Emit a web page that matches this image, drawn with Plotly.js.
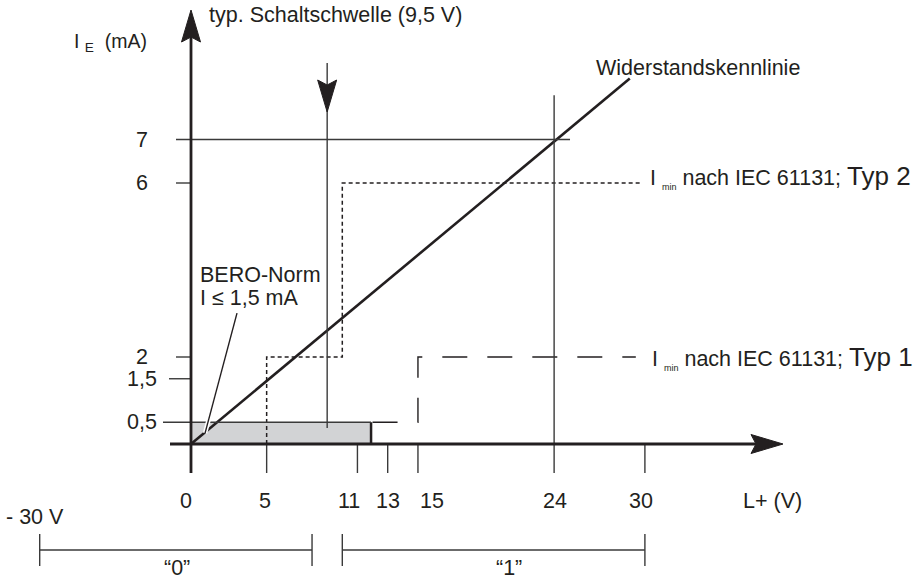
<!DOCTYPE html>
<html>
<head>
<meta charset="utf-8">
<script src="https://cdn.plot.ly/plotly-3.0.1.min.js"></script>
<style>html,body{margin:0;padding:0;background:#fff;}#chart{width:920px;height:579px;}</style>
</head>
<body>
<div id="chart"></div>
<script>
// ---------- data ----------
const xTickVals = [0, 5, 11, 13, 15, 24, 30];            // L+ (V)
const xTickText = ['0', '5', '11', '13', '15', '24', '30'];
const yTickVals = [0.5, 1.5, 2, 6, 7];                   // I_E (mA)
const yTickText = ['0,5', '1,5', '2', '6', '7'];

const resistanceU = [0, 29];        // Widerstandskennlinie
const resistanceI = [0, 8.4];

const typ2U = [5, 5, 10, 10, 29.8]; // I_min nach IEC 61131; Typ 2
const typ2I = [0, 2, 2, 6, 6];

const typ1U = [12, 15, 15, 29.4];   // I_min nach IEC 61131; Typ 1
const typ1I = [0.5, 0.5, 2, 2];

const beroU = [0, 11.9];            // BERO-Norm area
const beroI = [0, 0.5];

const thresholdU = 9.0;             // typ. Schaltschwelle arrow
const ratedU = 24;                  // guide lines
const ratedI = 7;

const zeroBand = [-10, 8];          // "0" band, left end = -30 V (compressed)
const oneBand = [10, 30];           // "1" band

// ---------- geometry helpers (layout only) ----------
const W = 920, H = 579;
const PXX = 15.13;   // px per V
const PXY = 43.5;    // px per mA
const X0 = 191, Y0 = 444; // pixel of origin
const xRange = [-X0 / PXX, (W - X0) / PXX];
const yRange = [-(H - Y0) / PXY, Y0 / PXY];
const px = p => p / PXX;   // px -> V
const py = p => p / PXY;   // px -> mA

const DARK = '#231f20';
const GRAY = '#3a3a3a';
const FONT = 'Liberation Sans, Arial, sans-serif';
const FS = 21.5;

function arrowHead(xt, yt, dir) {
  const L = 32, Wd = 9.5, N = 5;
  let pts;
  if (dir === 'up') {
    pts = [[xt, yt], [xt + px(Wd), yt - py(L)], [xt, yt - py(L - N)], [xt - px(Wd), yt - py(L)]];
  } else if (dir === 'down') {
    pts = [[xt, yt], [xt + px(Wd), yt + py(L)], [xt, yt + py(L - N)], [xt - px(Wd), yt + py(L)]];
  } else {
    pts = [[xt, yt], [xt - px(L), yt + py(Wd)], [xt - px(L - N), yt], [xt - px(L), yt - py(Wd)]];
  }
  const d = 'M' + pts.map(p => p[0] + ',' + p[1]).join(' L') + ' Z';
  return {type: 'path', xref: 'x', yref: 'y', path: d, fillcolor: DARK, line: {color: DARK, width: 1}, layer: 'above'};
}
function seg(x0, y0, x1, y1, color, width, layer) {
  return {type: 'line', xref: 'x', yref: 'y', x0, y0, x1, y1, line: {color, width}, layer: layer || 'above'};
}

const shapes = [];
// BERO grey area
shapes.push({type: 'rect', xref: 'x', yref: 'y', x0: beroU[0], x1: beroU[1], y0: beroI[0], y1: beroI[1],
  fillcolor: '#d2d3d5', line: {width: 0}, layer: 'below'});
shapes.push(seg(beroU[1], beroI[0], beroU[1], beroI[1], DARK, 2.5));

// y ticks / guide lines
const tickBottom = -py(29);
yTickVals.forEach(v => {
  let x0 = -px(15), x1 = 0;
  if (v === 0.5) { x0 = -px(28); x1 = beroU[1]; }
  if (v === 1.5) { x0 = -px(22); }
  if (v === ratedI) { x1 = ratedU + 1.05; }
  shapes.push(seg(x0, v, x1, v, GRAY, 1.4));
});
// x ticks
xTickVals.forEach(v => {
  const top = v === ratedU ? 8.02 : 0;
  shapes.push(seg(v, tickBottom, v, top, GRAY, 1.4));
});

// axes
const yTip = py(Y0 - 10), xTip = px(783 - X0);
shapes.push(seg(0, tickBottom, 0, yTip - py(20), DARK, 2.8));
shapes.push(arrowHead(0, yTip, 'up'));
shapes.push(seg(-px(21), 0, xTip - px(20), 0, DARK, 2.8));
shapes.push(arrowHead(xTip, 0, 'right'));

// threshold arrow
const thrTop = py(Y0 - 63), thrTip = py(Y0 - 112), thrBottom = py(Y0 - 428);
shapes.push(seg(thresholdU, thrTop, thresholdU, thrBottom, GRAY, 1.4));
shapes.push(arrowHead(thresholdU, thrTip, 'down'));

// BERO pointer (white halo + line)
const ptr = [[3.04, 3.01], [0.93, 0.25]];
shapes.push(seg(ptr[0][0], ptr[0][1], ptr[1][0], ptr[1][1], '#ffffff', 4.5));
shapes.push(seg(ptr[0][0], ptr[0][1], ptr[1][0], ptr[1][1], DARK, 1.4));

// bands "0" / "1"
const bandY = -py(550 - Y0), bandH = py(16);
[zeroBand, oneBand].forEach(b => {
  shapes.push(seg(b[0], bandY, b[1], bandY, GRAY, 1.4));
  shapes.push(seg(b[0], bandY - bandH, b[0], bandY + bandH, GRAY, 1.4));
  shapes.push(seg(b[1], bandY - bandH, b[1], bandY + bandH, GRAY, 1.4));
});

// ---------- annotations ----------
const ann = [];
function txt(text, x, y, opts) {
  ann.push(Object.assign({text, x, y, xref: 'x', yref: 'y', showarrow: false,
    font: {family: FONT, size: FS, color: DARK}, xanchor: 'center', yanchor: 'middle'}, opts || {}));
}
const xLabelShift = {0: -5, 5: -2, 11: -8, 13: 0, 15: 14, 24: 1, 30: -4};
const xLabelY = -py(501 - Y0);
xTickVals.forEach((v, i) => txt(xTickText[i], v, xLabelY, {xshift: xLabelShift[v]}));
yTickVals.forEach((v, i) => txt(yTickText[i], -px(X0 - 142), v));

txt('L+ (V)', px(772 - X0), xLabelY);
txt('I <sub>E</sub>  (mA)', -px(X0 - 149), py(Y0 - 42), {xanchor: 'right', font: {family: FONT, size: 19.5, color: DARK}});
txt('typ. Schaltschwelle (9,5 V)', px(207 - X0), py(Y0 - 15), {xanchor: 'left'});
txt('Widerstandskennlinie', px(698 - X0), py(Y0 - 68));
txt('BERO-Norm', px(198 - X0), py(Y0 - 275), {xanchor: 'left'});
txt('I ≤ 1,5 mA', px(198 - X0), py(Y0 - 298), {xanchor: 'left'});
txt('I <sub><span style="font-size:9px">min</span></sub> nach IEC 61131; <span style="font-size:26px">Typ 2</span>',
    typ2U[typ2U.length - 1] + px(6), typ2I[typ2I.length - 1] + 0.15, {xanchor: 'left'});
txt('I <sub><span style="font-size:9px">min</span></sub> nach IEC 61131; <span style="font-size:26px">Typ 1</span>',
    typ1U[typ1U.length - 1] + px(14), typ1I[typ1I.length - 1], {xanchor: 'left'});
txt('- 30 V', zeroBand[0] - px(5), -py(517 - Y0));
txt('“0”', px(177 - X0), -py(568 - Y0));
txt('“1”', px(509 - X0), -py(568 - Y0));

// ---------- traces ----------
const traces = [
  {x: resistanceU, y: resistanceI, mode: 'lines', line: {color: DARK, width: 2.6}, hoverinfo: 'skip'},
  {x: typ2U, y: typ2I, mode: 'lines', line: {color: DARK, width: 1.5, dash: '4px,3px'}, hoverinfo: 'skip'},
  {x: typ1U, y: typ1I, mode: 'lines', line: {color: DARK, width: 1.4, dash: '25px,20px'}, hoverinfo: 'skip'}
];

const layout = {
  width: W, height: H,
  margin: {l: 0, r: 0, t: 0, b: 0},
  paper_bgcolor: '#ffffff', plot_bgcolor: '#ffffff',
  showlegend: false,
  xaxis: {range: xRange, visible: false, fixedrange: true},
  yaxis: {range: yRange, visible: false, fixedrange: true},
  shapes, annotations: ann
};
Plotly.newPlot('chart', traces, layout, {staticPlot: true, displayModeBar: false});
</script>
</body>
</html>
